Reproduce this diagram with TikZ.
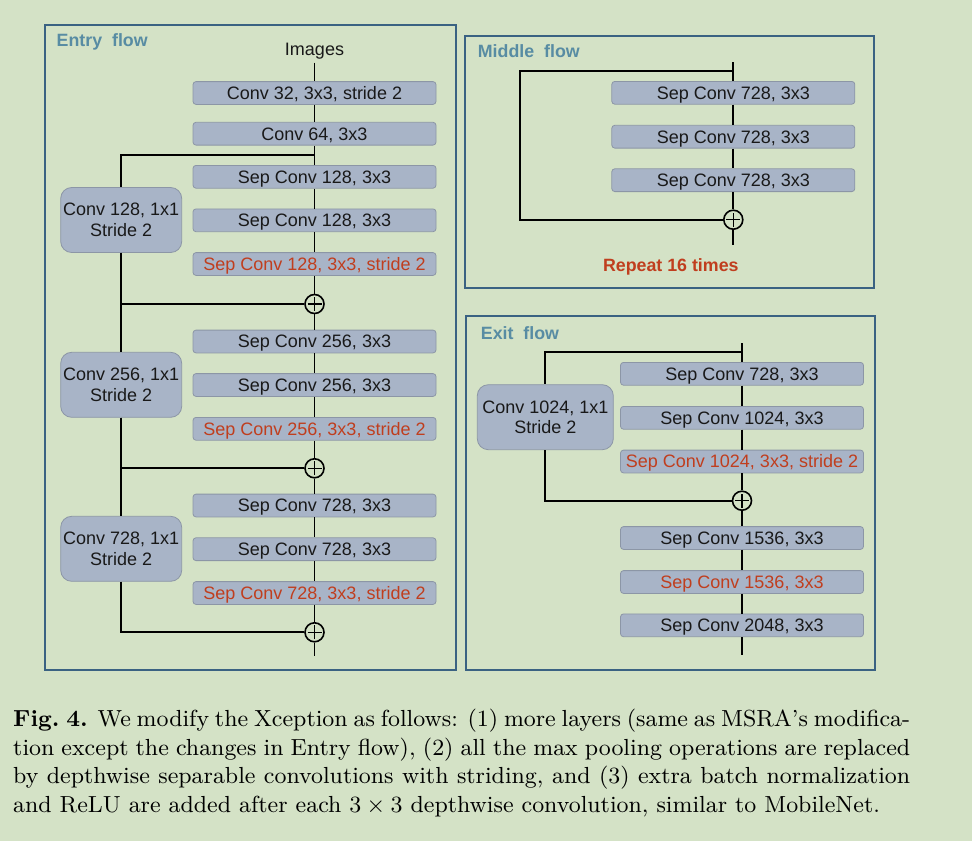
\documentclass[tikz,border=0pt]{standalone}
\usepackage{fontspec}
\usepackage{graphicx}
\newfontfamily\arial{Liberation Sans}
\definecolor{bg}{RGB}{212,226,198}
\definecolor{boxfill}{RGB}{168,180,199}
\definecolor{boxline}{RGB}{140,150,166}
\definecolor{framec}{RGB}{58,98,130}
\definecolor{titlec}{RGB}{88,140,163}
\definecolor{redc}{RGB}{192,62,30}
\definecolor{inkc}{RGB}{25,25,25}
\tikzset{
 layer/.style={rectangle, rounded corners=3pt, fill=boxfill, draw=boxline, line width=0.8pt,
   minimum width=243pt, minimum height=22.8pt, inner sep=0pt, text=inkc,
   font=\arial\fontsize{18}{20.7}\selectfont, text height=12.9pt, text depth=0pt},
 redlayer/.style={layer, text=redc},
 shortcut/.style={rectangle, rounded corners=11pt, fill=boxfill, draw=boxline, line width=0.8pt,
   minimum width=121pt, minimum height=65pt, inner sep=0pt, align=center, text=inkc,
   font=\arial\fontsize{18}{20.7}\selectfont},
 addop/.style={circle, draw=black, fill=bg, line width=1.6pt, minimum size=19pt, inner sep=0pt,
   path picture={\draw[line width=1.4pt]
     ([xshift=-7pt]path picture bounding box.center) -- ([xshift=7pt]path picture bounding box.center)
     ([yshift=-7pt]path picture bounding box.center) -- ([yshift=7pt]path picture bounding box.center);}},
 wire/.style={line width=1.8pt, draw=black},
 flowframe/.style={draw=framec, line width=1.8pt},
 flowtitle/.style={anchor=base west, inner sep=0pt, text=titlec, font=\arial\bfseries\fontsize{17.8}{20.7}\selectfont},
 plaintext/.style={inner sep=0pt, text=inkc, font=\arial\fontsize{18}{20.7}\selectfont, text height=12.9pt, text depth=0pt},
}
\begin{document}
\begin{tikzpicture}[x=1pt,y=-1pt]
\fill[bg] (0,0) rectangle (972,841);
\useasboundingbox (0,0) rectangle (972,841);

% frames
\draw[flowframe] (45,25) rectangle (456,670);
\draw[flowframe] (465,36) rectangle (874,288);
\draw[flowframe] (466,316) rectangle (875,670);

% ---------------- Entry flow
\node[flowtitle] (tEntry) at (56.5,46.7) {Entry\ \ flow};
\node[plaintext] (img) at (314.5,49.3) {Images};
\coordinate (imgb) at (314.5,62.7);
\node[layer] (c32) at (314.5,93) {Conv 32, 3x3, stride 2};
\node[layer] (c64) at (314.5,133.7) {Conv 64, 3x3};
\coordinate (b1) at (314.5,155);
\node[layer] (s1a) at (314.5,176.8) {Sep Conv 128, 3x3};
\node[layer] (s1b) at (314.5,220.3) {Sep Conv 128, 3x3};
\node[redlayer] (s1c) at (314.5,264) {Sep Conv 128, 3x3, stride 2};
\node[addop] (p1) at (314.5,304) {};
\node[layer] (s2a) at (314.5,341.5) {Sep Conv 256, 3x3};
\node[layer] (s2b) at (314.5,385) {Sep Conv 256, 3x3};
\node[redlayer] (s2c) at (314.5,428.8) {Sep Conv 256, 3x3, stride 2};
\node[addop] (p2) at (314.5,468.3) {};
\node[layer] (s3a) at (314.5,505.5) {Sep Conv 728, 3x3};
\node[layer] (s3b) at (314.5,549.2) {Sep Conv 728, 3x3};
\node[redlayer] (s3c) at (314.5,593) {Sep Conv 728, 3x3, stride 2};
\node[addop] (p3) at (314.5,632.3) {};
\coordinate (entryend) at (314.5,656);
\node[shortcut] (k1) at (121.2,220) {Conv 128, 1x1\\Stride 2};
\node[shortcut] (k2) at (121.2,384.8) {Conv 256, 1x1\\Stride 2};
\node[shortcut] (k3) at (121.2,548.8) {Conv 728, 1x1\\Stride 2};

\draw[wire] (imgb) -- (c32);
\draw[wire] (c32) -- (c64);
\draw[wire] (c64) -- (b1) -- (s1a);
\draw[wire] (s1a) -- (s1b);
\draw[wire] (s1b) -- (s1c);
\draw[wire] (s1c) -- (p1);
\draw[wire] (p1) -- (s2a);
\draw[wire] (s2a) -- (s2b);
\draw[wire] (s2b) -- (s2c);
\draw[wire] (s2c) -- (p2);
\draw[wire] (p2) -- (s3a);
\draw[wire] (s3a) -- (s3b);
\draw[wire] (s3b) -- (s3c);
\draw[wire] (s3c) -- (p3);
\draw[wire] (p3) -- (entryend);
\draw[wire] (b1) -| (k1);
\draw[wire] (k1) |- (p1);
\draw[wire] (k1) -- (k2);
\draw[wire] (k2) |- (p2);
\draw[wire] (k2) -- (k3);
\draw[wire] (k3) |- (p3);

% ---------------- Middle flow
\node[flowtitle] (tMiddle) at (477.7,57.8) {Middle\ \ flow};
\coordinate (mt) at (733.3,62.3);
\coordinate (mb) at (733.3,71.3);
\coordinate (mc) at (520.3,71.3);
\node[layer] (m1) at (733.3,92.8) {Sep Conv 728, 3x3};
\node[layer] (m2) at (733.3,136.7) {Sep Conv 728, 3x3};
\node[layer] (m3) at (733.3,180.2) {Sep Conv 728, 3x3};
\node[addop] (mp) at (733.3,219.7) {};
\coordinate (mend) at (733.3,245);
\node[plaintext, text=redc, font=\arial\bfseries\fontsize{17.8}{20.7}\selectfont] (rep) at (670.8,265.2) {Repeat 16 times};
\draw[wire] (mt) -- (mb) -- (m1);
\draw[wire] (m1) -- (m2);
\draw[wire] (m2) -- (m3);
\draw[wire] (m3) -- (mp);
\draw[wire] (mp) -- (mend);
\draw[wire] (mb) -- (mc) |- (mp);

% ---------------- Exit flow
\node[flowtitle] (tExit) at (480.7,339.5) {Exit\ \ flow};
\coordinate (et) at (742,343.3);
\coordinate (eb) at (742,352.3);
\node[layer] (e1) at (742,373.8) {Sep Conv 728, 3x3};
\node[layer] (e2) at (742,417.8) {Sep Conv 1024, 3x3};
\node[redlayer] (e3) at (742,461.5) {Sep Conv 1024, 3x3, stride 2};
\node[addop] (ep) at (742,500.7) {};
\node[layer] (e4) at (742,538) {Sep Conv 1536, 3x3};
\node[redlayer] (e5) at (742,582) {Sep Conv 1536, 3x3};
\node[layer] (e6) at (742,625.3) {Sep Conv 2048, 3x3};
\coordinate (eend) at (742,655.3);
\node[shortcut, minimum width=136pt] (ek) at (545.3,417.2) {Conv 1024, 1x1\\Stride 2};
\draw[wire] (et) -- (eb) -- (e1);
\draw[wire] (e1) -- (e2);
\draw[wire] (e2) -- (e3);
\draw[wire] (e3) -- (ep);
\draw[wire] (ep) -- (e4);
\draw[wire] (e4) -- (e5);
\draw[wire] (e5) -- (e6);
\draw[wire] (e6) -- (eend);
\draw[wire] (eb) -| (ek);
\draw[wire] (ek) |- (ep);

% ---------------- Caption (9pt design, scaled)
\node[anchor=base west, inner sep=0pt] (cap) at (13,726.7)
 {\scalebox{2.585}{\parbox[t]{347pt}{\fontsize{9}{11}\selectfont\textbf{Fig.~4.} We modify the Xception as follows: (1) more layers (same as MSRA's modifica-\linebreak tion except the changes in Entry flow), (2) all the max pooling operations are replaced\linebreak by depthwise separable convolutions with striding, and (3) extra batch normalization\linebreak and ReLU are added after each $3\times3$ depthwise convolution, similar to MobileNet.}}};
\end{tikzpicture}
\end{document}
